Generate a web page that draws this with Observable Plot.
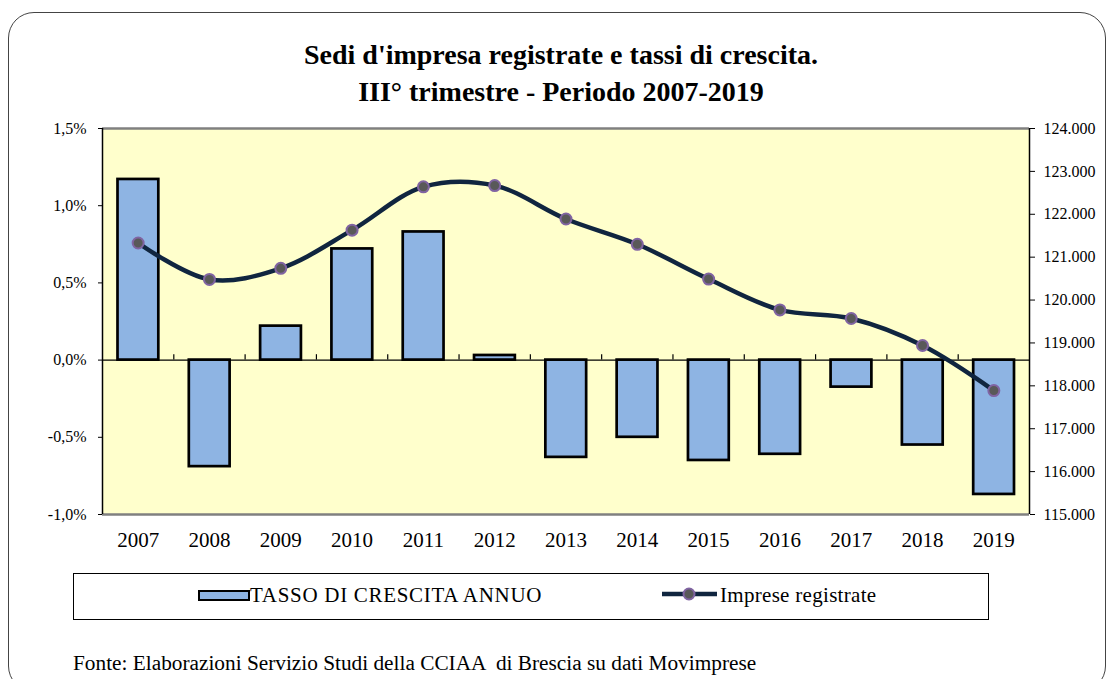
<!DOCTYPE html>
<html>
<head>
<meta charset="utf-8">
<script src="https://cdn.jsdelivr.net/npm/d3@7"></script>
<script src="https://cdn.jsdelivr.net/npm/@observablehq/plot@0.6"></script>
<style>
  html, body { margin: 0; padding: 0; background: #fff; }
  #wrap { position: relative; width: 1109px; height: 679px; overflow: hidden; font-family: "Liberation Serif", "Times New Roman", serif; }
  #border { position: absolute; left: 8px; top: 12px; width: 1098px; height: 680px; border: 1.5px solid #444; border-radius: 26px; box-sizing: border-box; }
  #chart { position: absolute; left: 0; top: 0; }
  .title { position: absolute; left: 0; width: 1122px; text-align: center; font-weight: bold; font-size: 28px; line-height: 32px; color: #000; }
  #legend { position: absolute; left: 73px; top: 573px; width: 916px; height: 47px; border: 1.5px solid #000; box-sizing: border-box; }
  .ltext { position: absolute; font-size: 21px; line-height: 21px; color: #000; white-space: pre; }
  #caption { position: absolute; left: 73px; top: 651px; font-size: 21.3px; color: #000; white-space: pre; }
</style>
</head>
<body>
<div id="wrap">
  <div id="border"></div>
  <div id="chart"></div>
  <div class="title" style="top:39px">Sedi d'impresa registrate e tassi di crescita.</div>
  <div class="title" style="top:76px">III° trimestre - Periodo 2007-2019</div>
  <div id="legend"></div>
  <div id="caption">Fonte: Elaborazioni Servizio Studi della CCIAA  di Brescia su dati Movimprese</div>
</div>
<script>
const years = ["2007","2008","2009","2010","2011","2012","2013","2014","2015","2016","2017","2018","2019"];
const tassoCrescita = [1.17, -0.69, 0.22, 0.72, 0.83, 0.03, -0.63, -0.50, -0.65, -0.61, -0.175, -0.55, -0.87];
const impreseRegistrate = [121330, 120480, 120740, 121630, 122640, 122670, 121890, 121300, 120490, 119770, 119570, 118940, 117890];
const leftTicks = [-1.0, -0.5, 0.0, 0.5, 1.0, 1.5];
const rightTicks = [115000, 116000, 117000, 118000, 119000, 120000, 121000, 122000, 123000, 124000];
const seriesNames = ["TASSO DI CRESCITA ANNUO", "Imprese registrate"];

const barFill = "#8EB4E3";
const lineColor = "#10253F";
const dotFill = "#595959";
const dotStroke = "#8064A2";

const locale = d3.formatLocale({decimal: ",", thousands: ".", grouping: [3], currency: ["€", ""], minus: "-"});
const fmtPct = v => locale.format(".1f")(v) + "%";
const fmtThou = locale.format(",d");

// right axis (imprese) mapped onto left axis (percent) domain
const rMin = 115000, rMax = 124000, lMin = -1, lMax = 1.5;
const toLeft = v => lMin + (v - rMin) / (rMax - rMin) * (lMax - lMin);
const fromLeft = p => rMin + (p - lMin) / (lMax - lMin) * (rMax - rMin);

const data = years.map((y, i) => ({i, year: y, rate: tassoCrescita[i], imp: impreseRegistrate[i]}));

const chart = Plot.plot({
  width: 1109,
  height: 679,
  marginTop: 128,
  marginBottom: 165,
  marginLeft: 102,
  marginRight: 80,
  style: {fontFamily: "Liberation Serif, Times New Roman, serif", fontSize: "16px", color: "#000", background: "transparent"},
  x: {domain: [0, years.length], axis: null, label: null},
  y: {domain: [lMin, lMax], axis: null, label: null},
  marks: [
    Plot.frame({fill: "#FFFFCC", stroke: "none"}),
    Plot.ruleY([lMin, lMax], {stroke: "#808080", strokeWidth: 2.5}),
    Plot.rect(data, {x1: "i", x2: d => d.i + 1, y1: 0, y2: "rate", insetLeft: 15.5, insetRight: 15, fill: barFill, stroke: "#000", strokeWidth: 2.7}),
    Plot.ruleY([0], {stroke: "#000", strokeWidth: 1.2}),
    Plot.ruleX(d3.range(1, years.length), {y1: 0, y2: 0.035, stroke: "#000", strokeWidth: 1.2}),
    Plot.ruleX([0, years.length], {stroke: "#000", strokeWidth: 1.5}),
    Plot.line(data, {x: d => d.i + 0.5, y: d => toLeft(d.imp), curve: "catmull-rom", stroke: lineColor, strokeWidth: 4.5}),
    Plot.dot(data, {x: d => d.i + 0.5, y: d => toLeft(d.imp), r: 5.5, fill: dotFill, stroke: dotStroke, strokeWidth: 2}),
    Plot.axisY({anchor: "left", label: null, ticks: leftTicks, tickFormat: fmtPct, tickSize: 4, tickPadding: 12, fontSize: 16}),
    Plot.axisY({anchor: "right", label: null, ticks: rightTicks.map(toLeft), tickFormat: p => fmtThou(Math.round(fromLeft(p))), tickSize: 5, tickPadding: 9, fontSize: 16}),
    Plot.axisX({anchor: "bottom", label: null, ticks: years.map((y, i) => i + 0.5), tickFormat: d => years[Math.floor(d)], tickSize: 0, tickPadding: 18, fontSize: 21})
  ]
});
document.getElementById("chart").appendChild(chart);

// legend
const legend = document.getElementById("legend");
const legSvg = d3.create("svg").attr("width", 913).attr("height", 44).style("position", "absolute").style("left", "0").style("top", "0");
legSvg.append("rect").attr("x", 125).attr("y", 17).attr("width", 50).attr("height", 9).attr("fill", barFill).attr("stroke", "#000").attr("stroke-width", 2);
legSvg.append("line").attr("x1", 588).attr("x2", 643).attr("y1", 20).attr("y2", 20).attr("stroke", lineColor).attr("stroke-width", 4.5);
legSvg.append("circle").attr("cx", 615).attr("cy", 20).attr("r", 5.5).attr("fill", dotFill).attr("stroke", dotStroke).attr("stroke-width", 2);
legend.appendChild(legSvg.node());
const t1 = document.createElement("div");
t1.className = "ltext"; t1.style.left = "176px"; t1.style.top = "11px"; t1.style.letterSpacing = "0.7px";
t1.textContent = seriesNames[0];
legend.appendChild(t1);
const t2 = document.createElement("div");
t2.className = "ltext"; t2.style.left = "646px"; t2.style.top = "11px"; t2.style.letterSpacing = "0.3px";
t2.textContent = seriesNames[1];
legend.appendChild(t2);
</script>
</body>
</html>
